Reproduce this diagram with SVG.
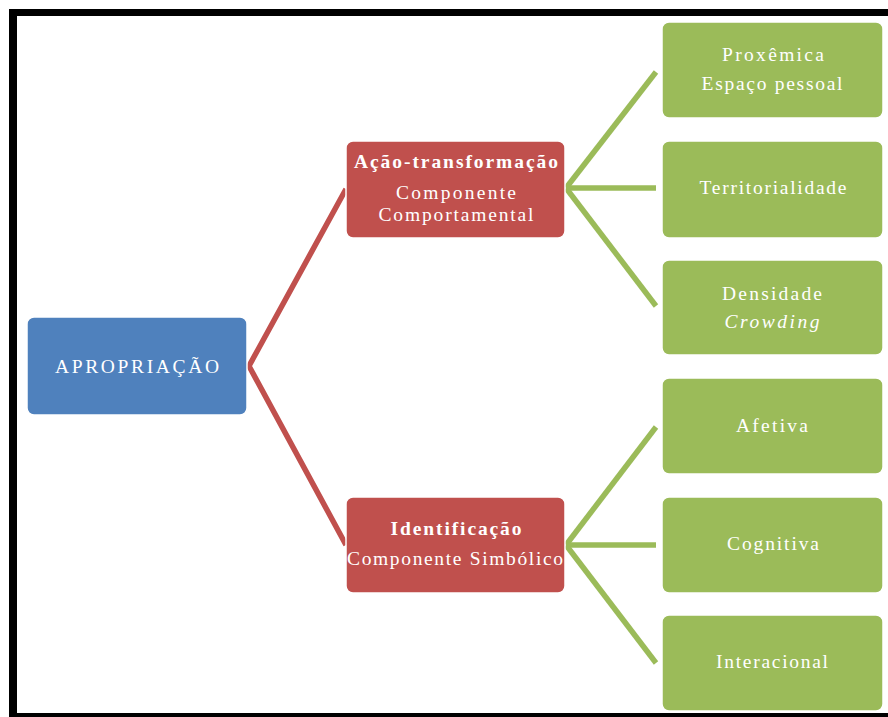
<svg xmlns="http://www.w3.org/2000/svg" width="888" height="717" viewBox="0 0 888 717">
<style>
.t{font-family:"Liberation Serif","DejaVu Serif",serif;font-size:19.5px;fill:#fff;text-anchor:middle;}
.b{font-weight:bold;}
.i{font-style:italic;}
.blue{fill:#4F81BD;stroke:#fff;stroke-width:1.5;}
.red{fill:#C0504D;stroke:#fff;stroke-width:1.5;}
.green{fill:#9BBB59;stroke:#fff;stroke-width:1.5;}
.cr{stroke:#C0504D;stroke-width:5.5;fill:none;stroke-linejoin:miter;}
.cg{stroke:#9BBB59;stroke-width:5.5;fill:none;}
</style>
<rect x="0" y="0" width="888" height="717" fill="#fff"/>
<g id="frame" fill="#000">
<rect x="9" y="9" width="879" height="7"/>
<rect x="9" y="9" width="8" height="708"/>
<rect x="9" y="713" width="879" height="4"/>
</g>
<g id="connectors">
<polyline class="cr" points="346,189 249,366 346,545"/>
<line class="cg" x1="566" y1="188" x2="656" y2="72"/>
<line class="cg" x1="566" y1="188" x2="656" y2="188"/>
<line class="cg" x1="566" y1="188" x2="656" y2="306"/>
<line class="cg" x1="566" y1="545" x2="656" y2="427"/>
<line class="cg" x1="566" y1="545" x2="656" y2="545"/>
<line class="cg" x1="566" y1="545" x2="656" y2="663"/>
</g>
<g id="apropriacao">
<rect class="blue" x="27" y="317" width="220" height="98" rx="7"/>
<text class="t" x="137" y="373" textLength="164" lengthAdjust="spacing">APROPRIAÇÃO</text>
</g>
<g id="acao">
<rect class="red" x="346" y="141" width="219" height="97" rx="7"/>
<text class="t b" x="456" y="168" textLength="204" lengthAdjust="spacing">Ação-transformação</text>
<text class="t" x="456" y="199" textLength="120" lengthAdjust="spacing">Componente</text>
<text class="t" x="456" y="221" textLength="155" lengthAdjust="spacing">Comportamental</text>
</g>
<g id="identificacao">
<rect class="red" x="346" y="497" width="219" height="96" rx="7"/>
<text class="t b" x="456" y="535" textLength="131" lengthAdjust="spacing">Identificação</text>
<text class="t" x="455" y="565" textLength="216" lengthAdjust="spacing">Componente Simbólico</text>
</g>
<g id="proxemica">
<rect class="green" x="662" y="22" width="221" height="96" rx="7"/>
<text class="t" x="773" y="61" textLength="102" lengthAdjust="spacing">Proxêmica</text>
<text class="t" x="772" y="90" textLength="141" lengthAdjust="spacing">Espaço pessoal</text>
</g>
<g id="territorialidade">
<rect class="green" x="662" y="141" width="221" height="97" rx="7"/>
<text class="t" x="773" y="194" textLength="147" lengthAdjust="spacing">Territorialidade</text>
</g>
<g id="densidade">
<rect class="green" x="662" y="260" width="221" height="95" rx="7"/>
<text class="t" x="772" y="300" textLength="100" lengthAdjust="spacing">Densidade</text>
<text class="t i" x="772" y="328" textLength="95" lengthAdjust="spacing">Crowding</text>
</g>
<g id="afetiva">
<rect class="green" x="662" y="378" width="221" height="96" rx="7"/>
<text class="t" x="772" y="432" textLength="72" lengthAdjust="spacing">Afetiva</text>
</g>
<g id="cognitiva">
<rect class="green" x="662" y="497" width="221" height="96" rx="7"/>
<text class="t" x="773" y="550" textLength="92" lengthAdjust="spacing">Cognitiva</text>
</g>
<g id="interacional">
<rect class="green" x="662" y="615" width="221" height="96" rx="7"/>
<text class="t" x="772" y="668" textLength="112" lengthAdjust="spacing">Interacional</text>
</g>
</svg>
